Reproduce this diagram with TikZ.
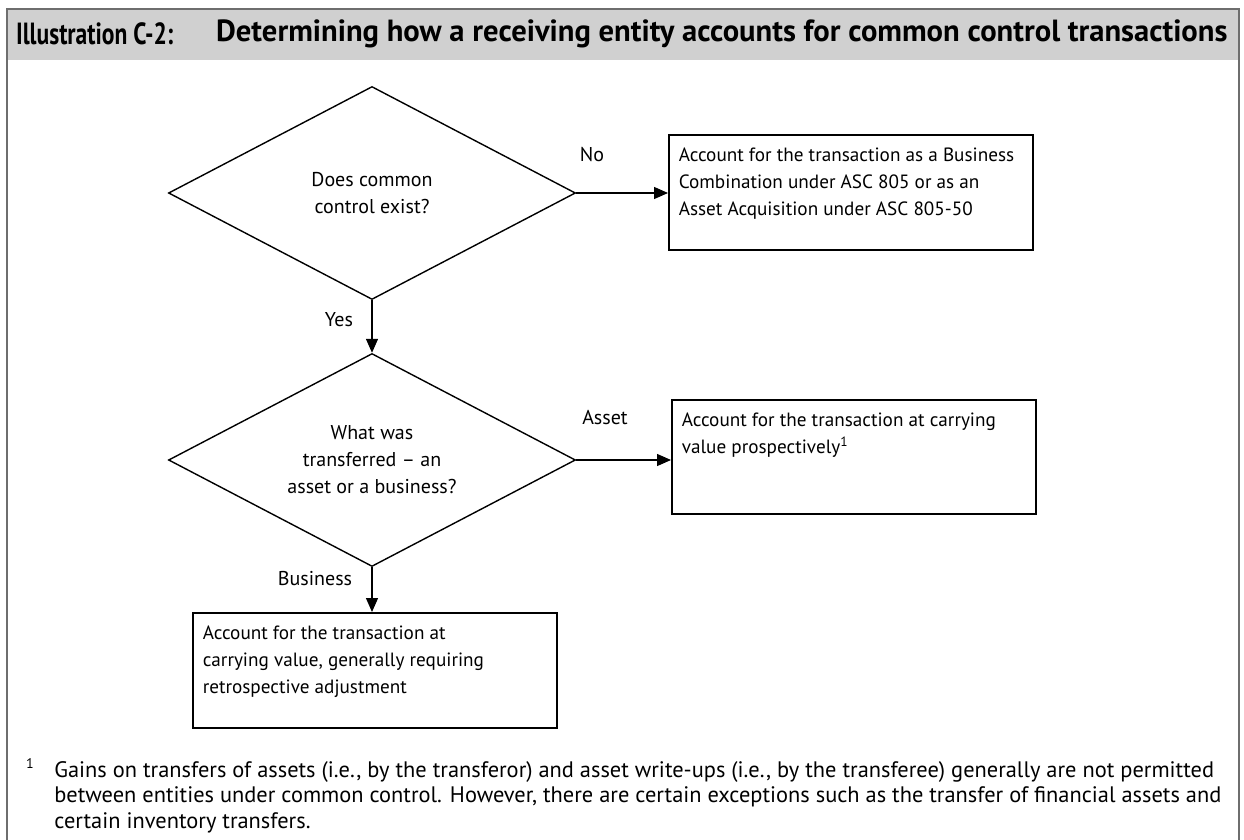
\documentclass[tikz,border=0pt]{standalone}
\usepackage{fontspec}
\setmainfont{PT Sans}
\usetikzlibrary{shapes.geometric,arrows.meta}
\definecolor{hdrgray}{RGB}{208,208,208}
\definecolor{framegray}{RGB}{110,110,110}
\tikzset{
  decision/.style={draw, diamond, aspect=1.9, inner sep=0pt, line width=0.7pt,
    minimum width=203.5pt, minimum height=106.5pt, align=center,
    font=\fontsize{10}{13.5}\selectfont},
  outcome/.style={draw, rectangle, line width=0.8pt, anchor=north west,
    inner xsep=5pt, inner ysep=4pt, font=\fontsize{9.6}{13.5}\selectfont},
  flow/.style={-{Triangle[length=7pt,width=6pt]}, line width=0.7pt},
  lbl/.style={font=\fontsize{10}{13.5}\selectfont},
  heading/.style={anchor=west, font=\fontsize{15.3}{17}\selectfont\bfseries}
}
\newcommand{\boxtext}[2]{\parbox[t][#1][t]{172pt}{\raggedright\vspace*{2.5pt}#2}}
\begin{document}
\begin{tikzpicture}[x=0.5pt,y=-0.5pt]
\useasboundingbox (0,0) rectangle (1244,840);
% frame and title bar
\fill [hdrgray] (7,9) rectangle (1239,60);
\draw [framegray, line width=1pt] (7,850) -- (7,9) -- (1239,9) -- (1239,850);
\node [heading] (illus) at (9,34) {\scalebox{0.77}[1]{Illustration C-2:}};
\node [heading] (title) at (209,34) {Determining how a receiving entity accounts for common control transactions};

% decisions
\node [decision] (ctrl) at (372,193) {Does common\\control exist?};
\node [decision] (what) at (372,460) {What was\\transferred -- an\\asset or a business?};

% outcomes
\node [outcome] (combo) at (668,134) {\boxtext{49.5pt}{Account for the transaction as a Business\\Combination under ASC 805 or as an\\Asset Acquisition under ASC 805-50}};
\node [outcome] (asset) at (671,399) {\boxtext{49pt}{Account for the transaction at carrying\\value prospectively\textsuperscript{1}}};
\node [outcome] (business) at (192,612) {\boxtext{49.5pt}{Account for the transaction at\\carrying value, generally requiring\\retrospective adjustment}};

% connectors
\draw [flow] (ctrl.east) -- (ctrl.east -| combo.west);
\draw [flow] (ctrl.south) -- (what.north);
\draw [flow] (what.east) -- (what.east -| asset.west);
\draw [flow] (what.south) -- (what.south |- business.north);

\node [lbl] (no) at (592,155) {No};
\node [lbl] (yes) at (339,320) {Yes};
\node [lbl] (as) at (605,418) {Asset};
\node [lbl] (bus) at (315,579) {Business};

% footnote
\node [anchor=center, font=\fontsize{7}{8}\selectfont] (fnmark) at (30,764) {1};
\node [anchor=north west, align=left, inner sep=0pt, font=\fontsize{11.2}{12.75}\selectfont] (fntext) at (54,761)
  {Gains on transfers of assets (i.e., by the transferor) and asset write-ups (i.e., by the transferee) generally are not permitted\\
   between entities under common control. However, there are certain exceptions such as the transfer of financial assets and\\
   certain inventory transfers.};
\end{tikzpicture}
\end{document}
